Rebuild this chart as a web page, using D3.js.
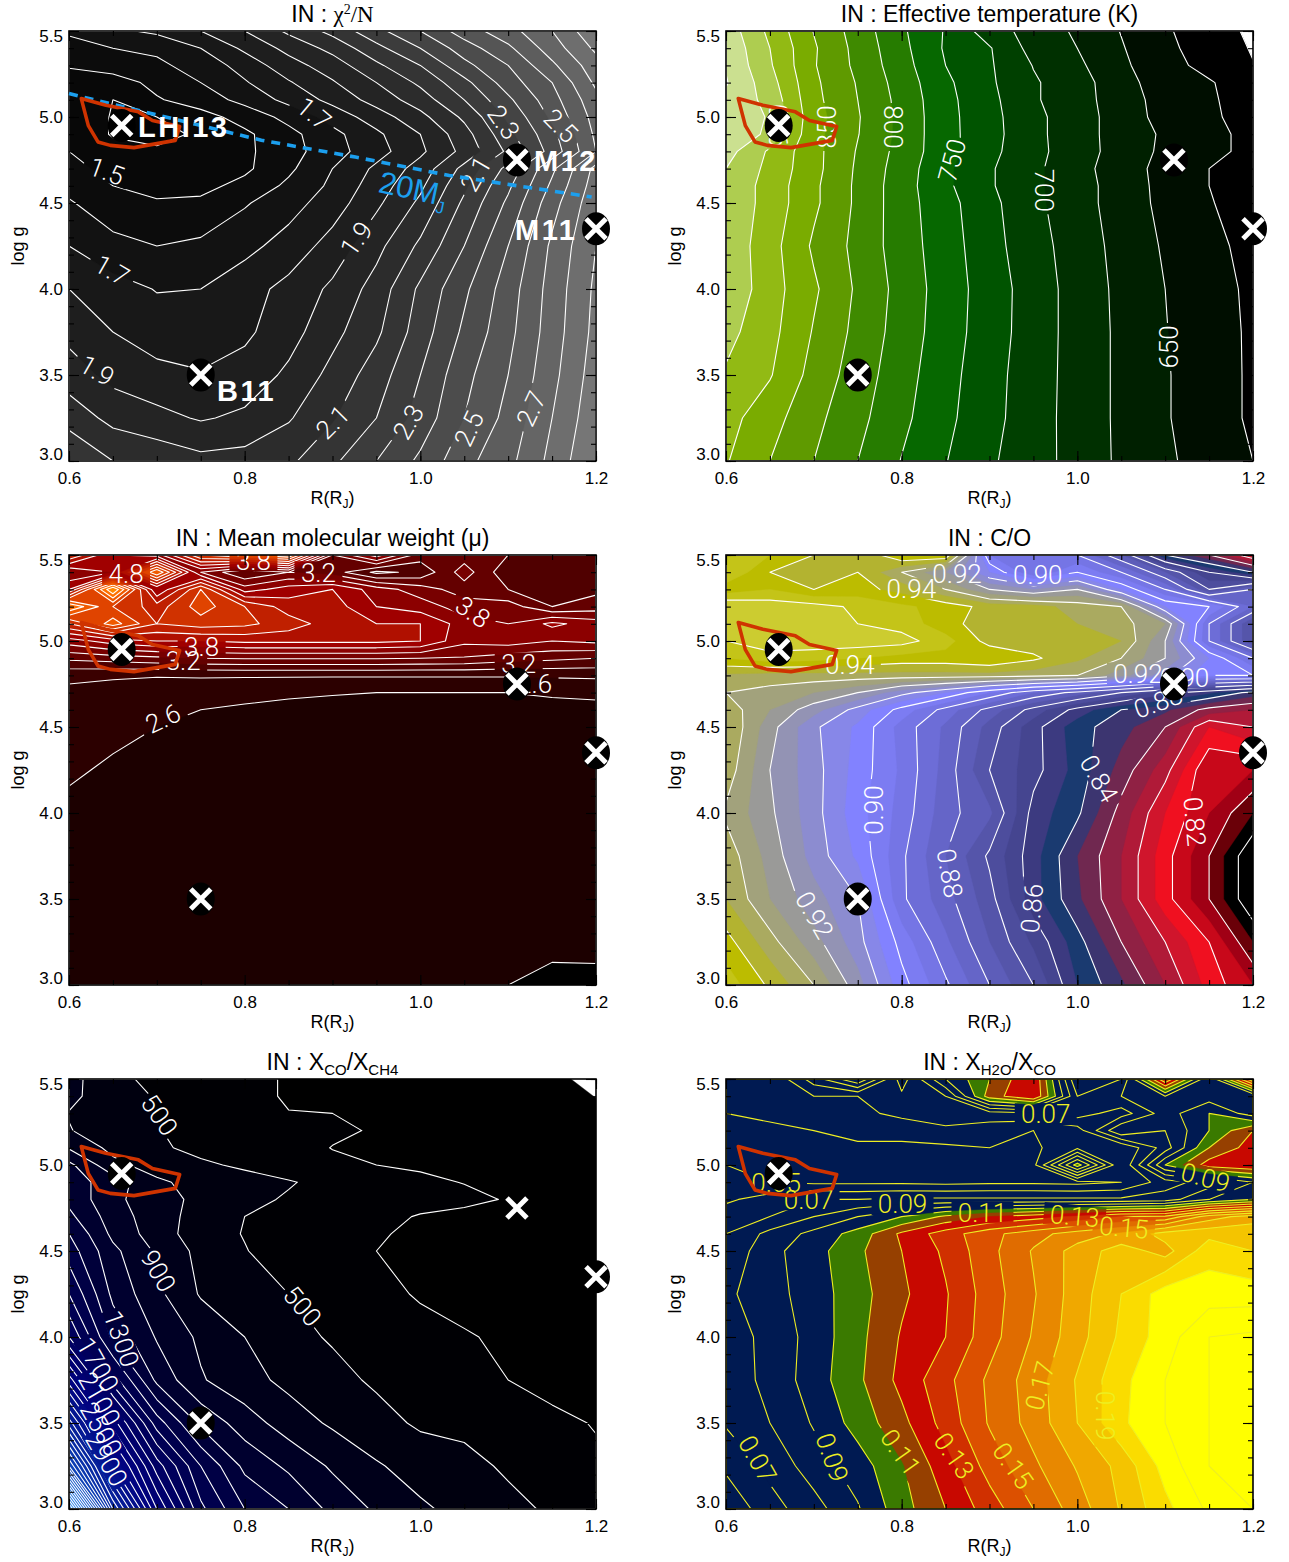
<!DOCTYPE html>
<html><head><meta charset="utf-8">
<script src="https://cdn.jsdelivr.net/npm/d3@7"></script>
<style>
html,body{margin:0;padding:0;background:#fff}
text{font-family:"Liberation Sans",Arial,sans-serif}
</style></head><body><svg id="c" width="1289" height="1562"></svg>
<script>
const radii=[0.6,0.65,0.7,0.75,0.8,0.85,0.9,0.95,1.0,1.05,1.1,1.15,1.2];
const logGs=[5.5,5.4,5.3,5.2,5.1,5.0,4.9,4.8,4.7,4.6,4.5,4.25,4.0,3.75,3.5,3.25,3.0];

const chi2Grid=[
[1.62,1.68,1.72,1.80,1.90,2.02,2.13,2.27,2.40,2.55,2.66,2.80,2.98],
[1.55,1.60,1.62,1.70,1.82,1.93,2.03,2.17,2.30,2.45,2.58,2.75,2.92],
[1.51,1.55,1.58,1.64,1.74,1.86,1.95,2.08,2.20,2.37,2.50,2.68,2.86],
[1.45,1.45,1.53,1.60,1.69,1.79,1.89,2.00,2.12,2.27,2.45,2.60,2.82],
[1.43,1.40,1.49,1.55,1.63,1.73,1.83,1.94,2.05,2.20,2.38,2.56,2.77],
[1.50,1.39,1.40,1.46,1.54,1.63,1.74,1.85,1.97,2.12,2.32,2.52,2.74],
[1.49,1.39,1.38,1.41,1.48,1.57,1.67,1.78,1.90,2.06,2.27,2.47,2.72],
[1.50,1.44,1.41,1.42,1.48,1.56,1.66,1.76,1.88,2.03,2.22,2.44,2.70],
[1.53,1.47,1.44,1.44,1.48,1.58,1.70,1.82,1.94,2.13,2.33,2.58,2.83],
[1.57,1.50,1.47,1.47,1.53,1.62,1.72,1.85,1.98,2.18,2.38,2.62,2.85],
[1.61,1.54,1.51,1.52,1.59,1.66,1.75,1.88,2.02,2.22,2.42,2.66,2.87],
[1.70,1.63,1.60,1.62,1.67,1.74,1.84,1.97,2.12,2.30,2.50,2.72,2.90],
[1.80,1.74,1.695,1.70,1.76,1.83,1.92,2.04,2.22,2.38,2.55,2.74,2.92],
[1.87,1.80,1.75,1.73,1.78,1.86,1.97,2.08,2.25,2.42,2.57,2.75,2.93],
[1.95,1.87,1.83,1.81,1.84,1.92,2.03,2.15,2.30,2.47,2.60,2.77,2.95],
[2.06,1.97,1.93,1.89,1.92,1.99,2.09,2.20,2.34,2.50,2.63,2.80,2.97],
[2.20,2.10,2.07,2.03,2.04,2.08,2.18,2.30,2.42,2.57,2.67,2.83,3.00]];

const teffGrid=[
[940,894,849,814,779,748,712,690,671,649,628,612,595],
[945,900,853,817,782,747,727,691,675,652,630,615,598],
[948,903,852,819,785,750,728,699,680,655,633,618,601],
[952,910,855,823,789,755,729,703,685,660,636,627,612],
[945,917,857,825,792,757,732,703,685,662,640,627,618],
[948,922,860,827,793,758,733,707,685,665,640,628,618],
[950,918,858,826,793,758,734,707,685,665,646,632,618],
[935,896,858,823,791,759,732,707,687,664,645,632,618],
[925,893,858,821,788,755,728,705,685,660,643,625,612],
[920,890,855,820,786,755,728,705,685,664,642,625,610],
[920,890,855,820,786,759,732,706,685,664,643,627,611],
[918,885,846,818,787,762,734,710,688,667,647,632,617],
[920,886,854,821,791,763,738,713,690,669,650,635,620],
[908,883,848,818,789,762,737,713,690,670,651,636,621],
[897,877,841,813,785,759,734,712,690,670,652,637,621],
[884,860,832,807,781,756,733,711,690,670,652,637,621],
[877,850,825,800,774,751,729,709,692,670,654,640,625]];

const muGrid=[
[4.4,3.8,3.7,4.6,4.8,5.0,3.4,3.9,3.3,3.3,3.2,3.2,3.2],
[3.6,3.8,5.0,3.6,3.2,3.4,3.3,2.95,3.05,3.5,3.05,3.1,3.05],
[4.0,5.4,3.8,4.6,3.7,3.9,4.0,3.7,3.5,3.3,3.2,3.05,3.15],
[5.2,4.6,4.3,4.7,4.4,4.1,4.1,3.8,3.7,3.5,3.5,3.2,3.3],
[4.4,4.9,4.4,4.5,4.45,4.3,4.1,4.0,4.0,3.7,3.6,3.85,3.7],
[3.7,3.9,4.0,4.0,4.05,4.05,4.05,4.05,4.0,3.65,3.7,3.6,3.65],
[3.25,3.3,3.35,3.4,3.42,3.42,3.42,3.42,3.4,3.38,3.3,3.25,3.2],
[2.84,2.82,2.81,2.82,2.82,2.82,2.82,2.82,2.82,2.82,2.82,2.83,2.84],
[2.76,2.74,2.72,2.69,2.66,2.63,2.61,2.6,2.6,2.6,2.6,2.62,2.63],
[2.74,2.7,2.66,2.6,2.57,2.55,2.55,2.55,2.55,2.55,2.55,2.55,2.56],
[2.72,2.65,2.6,2.56,2.53,2.51,2.51,2.51,2.51,2.51,2.51,2.51,2.51],
[2.63,2.57,2.52,2.5,2.5,2.5,2.5,2.5,2.5,2.5,2.5,2.5,2.5],
[2.55,2.5,2.5,2.5,2.5,2.5,2.5,2.5,2.5,2.5,2.5,2.5,2.5],
[2.5,2.5,2.5,2.5,2.5,2.5,2.5,2.5,2.5,2.5,2.5,2.5,2.5],
[2.5,2.5,2.5,2.5,2.5,2.5,2.5,2.5,2.5,2.5,2.5,2.5,2.5],
[2.5,2.5,2.5,2.5,2.5,2.5,2.5,2.5,2.5,2.5,2.5,2.49,2.48],
[2.5,2.5,2.5,2.5,2.5,2.5,2.5,2.5,2.5,2.47,2.40,2.30,2.32]];

const coGrid=[
[.95,.945,.94,.935,.945,.945,.895,.89,.89,.875,.85,.84,.825],
[.95,.94,.935,.94,.93,.92,.905,.89,.90,.89,.875,.86,.85],
[.942,.945,.94,.942,.938,.93,.92,.915,.92,.905,.89,.87,.88],
[.955,.953,.952,.949,.946,.943,.938,.937,.933,.93,.905,.90,.885],
[.952,.953,.952,.95,.948,.942,.937,.936,.935,.932,.925,.89,.87],
[.95,.953,.953,.953,.952,.947,.938,.937,.935,.935,.92,.89,.87],
[.945,.948,.947,.945,.943,.943,.945,.941,.936,.93,.92,.905,.89],
[.934,.933,.933,.933,.933,.933,.933,.932,.93,.922,.912,.90,.90],
[.93,.928,.925,.92,.912,.905,.895,.885,.878,.87,.862,.856,.848],
[.933,.925,.917,.908,.898,.888,.878,.868,.858,.85,.846,.838,.835],
[.935,.922,.911,.904,.893,.884,.873,.862,.852,.847,.84,.825,.83],
[.933,.92,.912,.903,.894,.883,.87,.862,.853,.843,.832,.815,.815],
[.929,.921,.912,.902,.893,.882,.876,.858,.851,.838,.825,.815,.805],
[.933,.923,.913,.904,.891,.88,.869,.857,.845,.835,.822,.81,.795],
[.935,.925,.917,.91,.891,.882,.872,.857,.846,.835,.822,.81,.795],
[.942,.932,.922,.912,.898,.886,.875,.864,.852,.84,.83,.82,.805],
[.948,.939,.93,.917,.902,.891,.88,.87,.855,.846,.835,.823,.815]];

const coCh4Grid=[
[780,530,470,410,330,290,260,250,240,230,210,130,60],
[760,560,490,420,360,280,270,260,240,230,210,180,95],
[690,600,490,420,370,305,300,260,240,230,210,190,150],
[710,600,510,430,380,350,330,285,240,230,210,190,170],
[880,640,530,450,410,370,295,260,245,230,210,190,170],
[1150,760,600,530,470,400,340,300,280,250,220,190,170],
[1200,1000,740,620,570,515,440,365,330,295,260,220,180],
[1250,950,780,650,550,480,430,410,380,335,290,240,190],
[1350,1000,790,620,500,440,390,360,285,260,220,180,150],
[1500,1050,800,590,490,370,340,320,260,240,200,170,140],
[1600,1150,870,640,510,400,350,300,230,210,180,150,130],
[1900,1250,950,680,600,500,390,360,280,220,160,130,120],
[2300,1450,1080,860,700,560,480,420,370,320,260,180,125],
[3200,2000,1250,920,770,650,560,470,400,345,300,245,200],
[4200,2800,1800,1250,1000,800,670,570,470,450,390,340,290],
[5500,3500,2400,1700,1250,1060,870,720,620,560,470,420,330],
[8000,4500,2900,1950,1500,1300,1045,870,730,640,555,470,420]];

const h2oGrid=[
[.05,.05,.075,.10,.055,.09,.11,.13,.06,.07,.14,.08,.15],
[.05,.05,.06,.06,.062,.07,.115,.13,.07,.08,.09,.085,.08],
[.05,.052,.053,.058,.062,.065,.065,.068,.075,.065,.085,.10,.085],
[.048,.048,.05,.055,.055,.058,.055,.05,.055,.09,.08,.10,.12],
[.047,.046,.045,.047,.047,.048,.05,.048,.058,.05,.075,.11,.125],
[.05,.047,.045,.044,.043,.045,.048,.047,.105,.05,.10,.125,.13],
[.05,.05,.048,.048,.048,.047,.048,.048,.047,.05,.065,.075,.09],
[.058,.065,.07,.07,.072,.072,.072,.072,.072,.072,.075,.09,.10],
[.066,.07,.08,.09,.10,.112,.12,.125,.132,.14,.142,.165,.175],
[.07,.083,.093,.104,.122,.135,.147,.156,.165,.172,.184,.187,.187],
[.072,.087,.096,.108,.12,.132,.147,.161,.174,.185,.176,.196,.19],
[.078,.086,.095,.106,.118,.129,.145,.159,.175,.19,.205,.205,.205],
[.075,.083,.094,.107,.121,.13,.146,.161,.176,.192,.205,.22,.222],
[.074,.083,.095,.108,.123,.137,.152,.165,.181,.197,.21,.22,.22],
[.071,.08,.091,.104,.117,.134,.151,.164,.18,.198,.21,.22,.22],
[.062,.073,.085,.095,.109,.126,.144,.158,.171,.183,.204,.22,.225],
[.052,.066,.076,.089,.106,.12,.135,.15,.165,.181,.197,.212,.22]];

const chi2Levels=d3.range(13,31).map(d=>d/10);
const teffLevels=d3.range(600,975,25);
const muFillLevels=d3.range(11,29).map(d=>d/5);
const muLineLevels=d3.range(12,29).map(d=>d/5);
const coFillLevels=d3.range(156,192).map(d=>d/200);
const coLineLevels=d3.range(80,96).map(d=>d/100);
const ratioFillLevels=d3.range(100,8200,200);
const ratioLineLevels=d3.range(300,8200,200);
const h2oLevels=d3.range(3,23).map(d=>d/100);

const teffColors=["#000000","#000e00","#002000","#003000","#004000","#005400","#066800","#267c00","#3f8a00","#5f9a00","#7aac00","#92ba14","#aecd50","#cbe090","#d8e8a8"];
const h2oColors=["#001a52","#001a52","#001a52","#001a52","#001a52","#001a52","#001a52","#3a7a00","#964000","#c80800","#d03000","#dc5000","#e06c00","#e88800","#f0a800","#f4c400","#fadc00","#ffff00","#ffff00","#ffff00"];
const chi2Color=d3.scaleLinear().domain([1.3,1.5,1.9,2.3,2.9]).range(["#040404","#0c0c0c","#242424","#444444","#767676"]);
const muColor=d3.scaleLinear().domain([2.2,2.39,2.4,2.6,2.8,3.0,3.4,3.8,4.2,4.6,5.0,5.4]).range(["#000000","#000000","#1c0000","#2c0000","#3a0000","#500000","#780000","#a00000","#c02000","#e04400","#ff7000","#ffa000"]);
const coColor=d3.scaleLinear().domain([.78,.80,.805,.81,.82,.83,.84,.845,.85,.855,.86,.87,.88,.89,.90,.91,.92,.93,.94,.95])
 .range(["#000000","#000000","#6a0008","#a00015","#f01020","#b01a38","#702850","#3c3570","#1a3a70","#3c3a80","#454590","#5555aa","#6565c8","#7575e5","#8282ff","#8c8cd0","#9a9a98","#aaaa60","#bcbc00","#cccc30"]);
const ratioColor=d3.scaleLinear().domain([100,300,1500,3000,5000,8000]).range(["#000000","#000004","#000045","#00007f","#0a3ab0","#3fa0ff"]);

const objects=[{name:"LHI13",r:0.66,g:4.95},{name:"M12",r:1.11,g:4.75},{name:"M11",r:1.2,g:4.35},{name:"B11",r:0.75,g:3.5}];
const outlineR=[.614,.642,.679,.695,.726,.721,.674,.647,.633,.622];
const outlineG=[5.107,5.068,5.03,4.98,4.945,4.864,4.822,4.835,4.855,4.95];
const massR=[.6,.819,.926,1.033,1.195];
const massG=[5.136,4.865,4.767,4.66,4.535];

const chi2Labels=[["1.5",.643,4.686,20],["1.7",.879,5.02,40],["2.3",1.095,4.97,55],["2.5",1.16,4.95,45],["1.7",.649,4.11,30],["1.9",.632,3.527,30],["1.9",.927,4.293,-55],["2.1",1.063,4.67,-60],["2.1",.9,3.227,-45],["2.3",.986,3.227,-60],["2.5",1.055,3.188,-65],["2.7",1.126,3.304,-65]];
const teffLabels=[["650",1.104,3.663,-90],["700",.963,4.574,90],["750",.857,4.748,-75],["800",.791,4.942,90],["850",.715,4.942,-90],["900",.66,4.95,-90]];
const muLabels=[["2.6",.707,4.55,-25],["3.2",1.112,4.87,0],["2.6",1.13,4.75,0],["3.8",.751,4.967,0],["3.2",.73,4.884,0],["3.2",.884,5.40,0],["4.8",.665,5.39,0],["3.8",.81,5.47,0],["3.8",1.06,5.17,35]];
const coLabels=[["0.94",.811,5.306,0],["0.94",.741,4.86,0],["0.92",.863,5.393,0],["0.90",.955,5.384,0],["0.92",1.069,4.812,0],["0.90",1.122,4.787,0],["0.88",1.092,4.647,-20],["0.90",.768,4.017,-90],["0.88",.855,3.65,80],["0.86",.948,3.446,-85],["0.92",.701,3.407,60],["0.84",1.025,4.2,60],["0.82",1.134,3.95,85]];
const ratioLabels=[["500",.703,5.291,55],["500",.866,4.18,50],["900",.702,4.385,60],["1300",.66,3.99,70],["1700",.633,3.84,60],["2100",.635,3.64,60],["2500",.637,3.465,60],["2900",.643,3.29,60]];
const h2oLabels=[["0.05",.657,4.90,0],["0.07",.694,4.80,0],["0.09",.801,4.773,0],["0.11",.892,4.725,0],["0.13",.997,4.705,5],["0.15",1.053,4.638,5],["0.07",.964,5.296,0],["0.09",1.146,4.928,15],["0.07",.636,3.29,60],["0.09",.721,3.30,70],["0.11",.799,3.33,55],["0.13",.86,3.31,55],["0.15",.927,3.252,55],["0.17",.957,3.717,-75],["0.19",1.032,3.543,90]];

const svg=d3.select("#c");
const panels=[
 {title:[["IN : "],["χ",1],["2",2],["/N",1]],grid:chi2Grid,fill:chi2Levels,line:chi2Levels,color:chi2Color,stroke:"#fff",labels:chi2Labels,col:0,row:0,names:true,marks:objects},
 {title:[["IN : Effective temperature (K)"]],grid:teffGrid,fill:teffLevels,line:teffLevels,color:(d,i)=>teffColors[i],stroke:"#fff",labels:teffLabels,col:1,row:0,marks:objects},
 {title:[["IN : Mean molecular weight ("],["μ"],[")"]],grid:muGrid,fill:muFillLevels,line:muLineLevels,color:muColor,stroke:"#fff",labels:muLabels,col:0,row:1,marks:objects},
 {title:[["IN : C/O"]],grid:coGrid,fill:coFillLevels,line:coLineLevels,color:coColor,stroke:"#fff",labels:coLabels,col:1,row:1,marks:objects},
 {title:[["IN : X"],["CO",3],["/X"],["CH4",3]],grid:coCh4Grid,fill:ratioFillLevels,line:ratioLineLevels,color:ratioColor,stroke:"#fff",labels:ratioLabels,col:0,row:2,marks:objects},
 {title:[["IN : X"],["H2O",3],["/X"],["CO",3]],grid:h2oGrid,fill:h2oLevels,line:h2oLevels,color:(d,i)=>h2oColors[i],stroke:"#eeee22",labels:h2oLabels,col:1,row:2,marks:objects.slice(0,1)}
];
const lefts=[69,726],tops=[31,555,1079],W=527,H=430;
const rIdx=d3.scaleLinear().domain(d3.range(radii.length)).range(radii);
const gIdx=d3.scaleLinear().domain(d3.range(logGs.length)).range(logGs);

panels.forEach((p,pi)=>{
 const x0=lefts[p.col],y0=tops[p.row];
 const x=d3.scaleLinear().domain([0.6,1.2]).range([x0,x0+W]);
 const y=d3.scaleLinear().domain([3,5.5]).range([y0+H,y0]);
 const n=radii.length,m=logGs.length,flat=p.grid.flat();
 const clamp=(c,N)=>Math.max(0,Math.min(N-1,c-0.5));
 const path=d3.geoPath(d3.geoTransform({point(a,b){this.stream.point(x(rIdx(clamp(a,n))),y(gIdx(clamp(b,m))));}}));
 const contours=d3.contours().size([n,m]);
 const g=svg.append("g");
 const defs=g.append("defs");
 defs.append("clipPath").attr("id","clip"+pi).append("rect").attr("x",x0).attr("y",y0).attr("width",W).attr("height",H);
 const mask=defs.append("mask").attr("id","mask"+pi).attr("maskUnits","userSpaceOnUse").attr("x",x0).attr("y",y0).attr("width",W).attr("height",H);
 mask.append("rect").attr("x",x0).attr("y",y0).attr("width",W).attr("height",H).attr("fill","#fff");
 mask.selectAll("rect.k").data(p.labels).join("rect").attr("class","k")
  .attr("x",d=>-d[0].length*7-3).attr("y",-11).attr("width",d=>d[0].length*14+6).attr("height",22).attr("fill","#000")
  .attr("transform",d=>`translate(${x(d[1])},${y(d[2])}) rotate(${d[3]})`);
 const body=g.append("g").attr("clip-path",`url(#clip${pi})`);
 body.append("rect").attr("x",x0).attr("y",y0).attr("width",W).attr("height",H).attr("fill","#fff");
 body.append("g").selectAll("path").data(contours.thresholds(p.fill)(flat)).join("path")
  .attr("d",path).attr("fill",(d,i)=>p.color(d.value,i)).attr("stroke",(d,i)=>p.color(d.value,i)).attr("stroke-width",.4);
 body.append("g").attr("mask",`url(#mask${pi})`).selectAll("path").data(contours.thresholds(p.line)(flat)).join("path")
  .attr("d",path).attr("fill","none").attr("stroke",p.stroke).attr("stroke-width",1.1).attr("stroke-linejoin","round");
 body.append("g").selectAll("text").data(p.labels).join("text").text(d=>d[0])
  .attr("text-anchor","middle").attr("dy","0.36em").attr("font-size",26).attr("font-weight",300).attr("fill",p.stroke)
  .style("font-family","Roboto,'Liberation Sans',sans-serif")
  .attr("transform",d=>`translate(${x(d[1])},${y(d[2])}) rotate(${d[3]})`);

 // frame and axes
 g.append("rect").attr("x",x0).attr("y",y0).attr("width",W).attr("height",H).attr("fill","none").attr("stroke","#000").attr("stroke-width",1.6);
 const xMaj=[.6,.8,1,1.2],yMaj=[3,3.5,4,4.5,5,5.5];
 const xMin=d3.range(12,25).map(d=>d/20),yMin=d3.range(30,56).map(d=>d/10);
 const axes=[
  [d3.axisBottom(x).tickValues(xMaj).tickSize(-10).tickFormat(d3.format(".1f")).tickPadding(11),0,y0+H,false],
  [d3.axisTop(x).tickValues(xMaj).tickSize(-10).tickFormat(""),0,y0,false],
  [d3.axisLeft(y).tickValues(yMaj).tickSize(-10).tickFormat(d3.format(".1f")).tickPadding(6),x0,0,true],
  [d3.axisRight(y).tickValues(yMaj).tickSize(-10).tickFormat(""),x0+W,0,true],
  [d3.axisBottom(x).tickValues(xMin).tickSize(-5).tickFormat(""),0,y0+H,false],
  [d3.axisTop(x).tickValues(xMin).tickSize(-5).tickFormat(""),0,y0,false],
  [d3.axisLeft(y).tickValues(yMin).tickSize(-5).tickFormat(""),x0,0,true],
  [d3.axisRight(y).tickValues(yMin).tickSize(-5).tickFormat(""),x0+W,0,true]];
 axes.forEach(([ax,tx,ty,isY])=>{
  const a=g.append("g").attr("transform",`translate(${tx},${ty})`).call(ax);
  a.select(".domain").remove();
  a.selectAll("line").attr("stroke","#000").attr("stroke-width",1.1);
  a.selectAll("text").attr("font-size",17).attr("font-family",'"Liberation Sans",Arial,sans-serif').attr("fill","#000");
  if(isY) a.selectAll("text").attr("dy",d=>d===5.5?"0.62em":d===3?"-0.1em":"0.32em");
 });
 const xt=g.append("text").attr("x",x(0.9)).attr("y",y0+H+43).attr("text-anchor","middle").attr("font-size",18);
 xt.append("tspan").text("R(R");
 xt.append("tspan").text("J").attr("font-size",12).attr("dy",4);
 xt.append("tspan").text(")").attr("dy",-4);
 g.append("text").attr("transform",`translate(${x0-45},${y(4.25)}) rotate(-90)`).attr("text-anchor","middle").attr("font-size",18).text("log g");
 const tt=g.append("text").attr("x",x(0.9)).attr("y",y0-9).attr("text-anchor","middle").attr("font-size",23);
 let shift=0;
 p.title.forEach(([s,k])=>{
  const t=tt.append("tspan").text(s);
  let dy=-shift;shift=0;
  if(k===1) t.attr("font-family",'"Liberation Serif",serif');
  if(k===2){t.attr("font-family",'"Liberation Serif",serif').attr("font-size",14);dy-=8;shift=-8;}
  if(k===3){t.attr("font-size",15);dy+=5;shift=5;}
  if(dy) t.attr("dy",dy);
 });

 // mass line and its label on the first panel
 if(p.names){
  const ln=d3.line().x((d,i)=>x(massR[i])).y((d,i)=>y(massG[i]));
  g.append("path").attr("d",ln(massR)).attr("fill","none").attr("stroke","#1c9fee").attr("stroke-width",3.6).attr("stroke-dasharray","9 7");
  const m20=g.append("text").attr("transform",`translate(${x(.951)},${y(4.564)}) rotate(12)`).attr("font-size",31).attr("fill","#1c9fee");
  m20.append("tspan").text("20M");
  m20.append("tspan").text("J").attr("font-size",17).attr("dy",8);
 }
 // outline
 const ol=d3.line().x((d,i)=>x(outlineR[i])).y((d,i)=>y(outlineG[i])).curve(d3.curveLinearClosed);
 g.append("path").attr("d",ol(outlineR)).attr("fill","none").attr("stroke","#cf3300").attr("stroke-width",3.6).attr("stroke-linejoin","round");
 // objects
 const mk=g.append("g").selectAll("g").data(p.marks).join("g").attr("transform",d=>`translate(${x(d.r)},${y(d.g)})`);
 mk.append("ellipse").attr("rx",14).attr("ry",16.5).attr("fill","#000");
 mk.append("path").attr("d","M-10,-10L10,10M-10,10L10,-10").attr("stroke","#fff").attr("stroke-width",5).attr("fill","none");
 if(p.names){
  const off={LHI13:[138-x(.66),11],M12:[534-x(1.11),11],M11:[515-x(1.2),11],B11:[217-x(.75),26]};
  mk.append("text").text(d=>d.name).attr("x",d=>off[d.name][0]).attr("y",d=>off[d.name][1])
   .attr("font-size",29).attr("font-weight",700).attr("letter-spacing",2.5).attr("fill","#fff");
 }
});
</script></body></html>
